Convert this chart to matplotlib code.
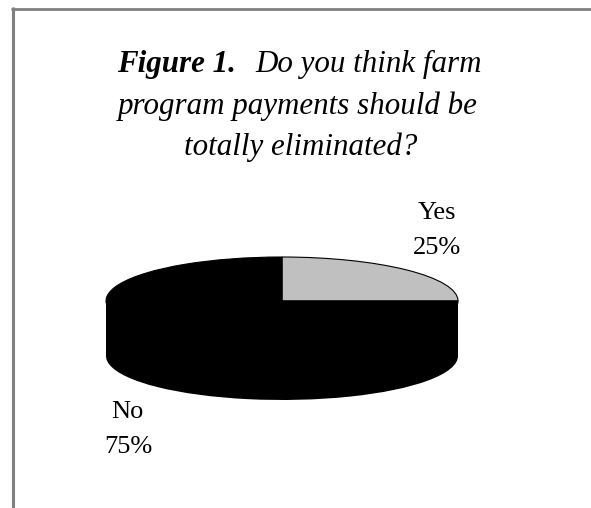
import matplotlib
matplotlib.use("Agg")
import matplotlib.pyplot as plt
from matplotlib.patches import Rectangle

labels = ["Yes", "No"]
shares = [25, 75]
colors = ["#C0C0C0", "#000000"]

W, H = 591, 508
cx, cy = 282, 301    # pie centre, pixels from top left
rx, ry = 176, 44
depth = 55

plt.rcParams["font.family"] = "Liberation Serif"

fig = plt.figure(figsize=(W / 100, H / 100), dpi=100)
ax = fig.add_axes([0, 0, 1, 1])

# side of the disc first, then the top face
ax.pie(shares, startangle=90, counterclock=False, colors=["black", "black"],
       center=(0, -depth / ry), radius=1, frame=True)
ax.add_patch(Rectangle((-1, -depth / ry), 2, depth / ry, facecolor="black", linewidth=0, zorder=1))
ax.pie(shares, startangle=90, counterclock=False, colors=colors,
       wedgeprops={"edgecolor": "black", "linewidth": 0.8}, radius=1, frame=True)

# one data unit is rx pixels across and ry pixels up, so the pie comes out flat
ax.set_aspect("auto")
ax.set_xlim(-cx / rx, (W - cx) / rx)
ax.set_ylim(-(H - cy) / ry, cy / ry)
ax.axis("off")


def px(x, y):
    return x / W, 1 - y / H


# frame: only top and left edges are in the picture
fig.add_artist(plt.Line2D([12.5 / W, 12.5 / W], [0, 1 - 7.3 / H], color="#808080", lw=2.2,
                          solid_capstyle="butt"))
fig.add_artist(plt.Line2D([11 / W, 1], [1 - 8.7 / H, 1 - 8.7 / H], color="#808080", lw=2.0,
                          solid_capstyle="butt"))

fs = 22.3
fig.text(*px(117, 72), "Figure 1.", fontsize=fs, style="italic", weight="bold", va="baseline")
fig.text(*px(255, 72), "Do you think farm", fontsize=fs, style="italic", va="baseline")
fig.text(*px(298, 114), "program payments should be", fontsize=fs, style="italic",
         ha="center", va="baseline")
fig.text(*px(301, 155.5), "totally eliminated?", fontsize=fs, style="italic",
         ha="center", va="baseline")

fs_label = 19
fig.text(*px(437, 219), labels[0], fontsize=fs_label, ha="center", va="baseline")
fig.text(*px(437, 254), f"{shares[0]}%", fontsize=fs_label, ha="center", va="baseline")
fig.text(*px(127, 418), labels[1], fontsize=fs_label, ha="center", va="baseline")
fig.text(*px(128, 453), f"{shares[1]}%", fontsize=fs_label, ha="center", va="baseline")

fig.savefig("out.png", dpi=100)
